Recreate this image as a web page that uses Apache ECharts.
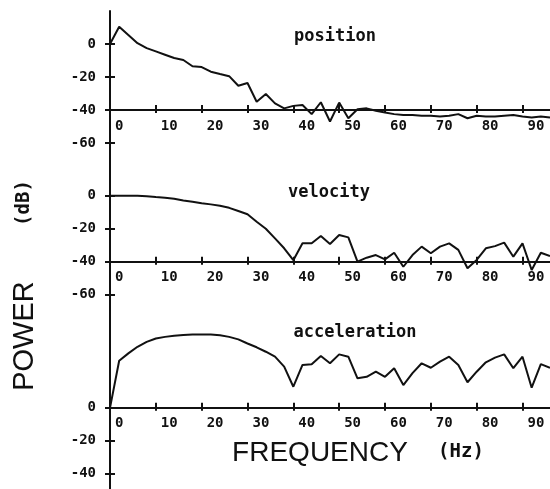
<!DOCTYPE html>
<html>
<head>
<meta charset="utf-8">
<script src="https://cdn.jsdelivr.net/npm/echarts@6/dist/echarts.min.js"></script>
<style>
    html, body { margin: 0; padding: 0; background: #fff; }
    #chart { width: 550px; height: 489px; }
</style>
</head>
<body>
<div id="chart"></div>
<script>
(function () {
    'use strict';

    // frequency (Hz) of each sample
    var freq = [0, 2, 4, 6, 8, 10, 12, 14, 16, 18, 20, 22, 24, 26, 28, 30, 32, 34, 36, 38,
        40, 42, 44, 46, 48, 50, 52, 54, 56, 58, 60, 62, 64, 66, 68, 70, 72, 74, 76, 78,
        80, 82, 84, 86, 88, 90, 92, 94, 96];

    // power in dB
    var positionDb = [0, 10.5, 5.5, 0.5, -2.5, -4.5, -6.5, -8.5, -9.7, -13.5,
        -14, -16.8, -18.2, -19.5, -25.3, -23.6, -35, -30.3, -36, -39,
        -37.5, -37, -42.5, -35.3, -47, -35.5, -45, -39.5, -39, -40.5,
        -41.5, -42.5, -43, -43, -43.5, -43.5, -44, -43.5, -42.5, -45,
        -43.5, -44, -44, -43.5, -43, -44, -44.5, -44, -44.5];

    var velocityDb = [0, 0, 0, 0, -0.3, -0.8, -1.2, -1.8, -2.8, -3.6,
        -4.5, -5.2, -6, -7.3, -9.2, -11.2, -15.7, -20, -25.8, -31.8,
        -39, -28.8, -28.8, -24.4, -29.2, -23.8, -25.2, -39.9, -37.5, -35.9,
        -38.5, -34.5, -43, -35.9, -30.8, -34.8, -30.8, -28.8, -32.8, -43.9,
        -38.9, -31.8, -30.5, -28.4, -36.9, -28.8, -45, -34.5, -36.5];

    var accelerationDb = [0, 28.5, 33, 37, 40, 42, 43, 43.7, 44.2, 44.4,
        44.5, 44.4, 44, 43, 41.5, 39, 36.7, 34, 31, 25,
        12.8, 26, 26.4, 31.4, 27, 32.4, 31, 17.9, 18.8, 21.9,
        18.8, 24, 13.8, 21, 27, 24.3, 28, 31, 26, 15.5,
        21.9, 27.6, 30.4, 32.4, 24, 31, 12.2, 26.5, 24.3];

    var panelNames = ['position', 'velocity', 'acceleration'];
    var xTickValues = [0, 10, 20, 30, 40, 50, 60, 70, 80, 90];
    var yTickValues = [[0, -20, -40, -60], [0, -20, -40, -60], [0, -20, -40]];

    var ink = '#111';
    var labelFont = { fontFamily: 'DejaVu Sans Mono', fontWeight: 'bold', fontSize: 14, color: ink };

    // panel layout: pixel top/height, dB range, where the frequency axis sits
    var panels = [
        { top: 11, height: 148.5, min: -70, max: 20, axisAt: -40 },
        { top: 159.5, height: 151.8, min: -70, max: 22, axisAt: -40 },
        { top: 311.3, height: 177.4, min: -49, max: 58.5, axisAt: 0 }
    ];
    var series = [positionDb, velocityDb, accelerationDb];

    var grid = [], xAxis = [], yAxis = [], seriesList = [];

    for (var i = 0; i < panels.length; i++) {
        var p = panels[i];
        var pxPerDb = p.height / (p.max - p.min);
        var xOffset = -(p.axisAt - p.min) * pxPerDb;

        grid.push({ left: 110, right: 0, top: p.top, height: p.height, outerBoundsMode: 'none' });

        // main x axis (labels + ticks below)
        xAxis.push({
            type: 'value', gridIndex: i, min: 0, max: 96, position: 'bottom', offset: xOffset,
            axisLine: { onZero: false, lineStyle: { color: ink, width: 2 } },
            axisTick: { show: true, length: 3, customValues: xTickValues.slice(1), lineStyle: { color: ink, width: 2 } },
            axisLabel: Object.assign({ customValues: xTickValues, align: 'left', padding: [0, 0, 0, 5], margin: 9 }, labelFont),
            splitLine: { show: false }
        });
        // twin x axis: ticks above the line to make crosses
        xAxis.push({
            type: 'value', gridIndex: i, min: 0, max: 96, position: 'bottom', offset: xOffset,
            axisLine: { show: false, onZero: false },
            axisTick: { show: true, inside: true, length: 5, customValues: xTickValues.slice(1), lineStyle: { color: ink, width: 2 } },
            axisLabel: { show: false },
            splitLine: { show: false }
        });

        yAxis.push({
            type: 'value', gridIndex: i, min: p.min, max: p.max, position: 'left',
            axisLine: { show: true, onZero: false, lineStyle: { color: ink, width: 2 } },
            axisTick: { show: true, length: 5, customValues: yTickValues[i], lineStyle: { color: ink, width: 2 } },
            axisLabel: Object.assign({ customValues: yTickValues[i], margin: 14 }, labelFont),
            splitLine: { show: false }
        });
        yAxis.push({
            type: 'value', gridIndex: i, min: p.min, max: p.max, position: 'left',
            axisLine: { show: false, onZero: false },
            axisTick: { show: true, inside: true, length: 5, customValues: yTickValues[i], lineStyle: { color: ink, width: 2 } },
            axisLabel: { show: false },
            splitLine: { show: false }
        });

        var pts = [];
        for (var j = 0; j < freq.length; j++) {
            pts.push([freq[j], series[i][j]]);
        }
        seriesList.push({
            name: panelNames[i],
            type: 'line',
            xAxisIndex: i * 2,
            yAxisIndex: i * 2,
            data: pts,
            showSymbol: false,
            clip: false,
            lineStyle: { color: ink, width: 2 }
        });
    }

    var titleStyle = { fontFamily: 'DejaVu Sans Mono', fontWeight: 'bold', fontSize: 17, fill: ink, textAlign: 'center', textVerticalAlign: 'middle' };

    var myChart = echarts.init(document.getElementById('chart'), null, { renderer: 'canvas' });

    myChart.setOption({
        animation: false,
        backgroundColor: '#fff',
        grid: grid,
        xAxis: xAxis,
        yAxis: yAxis,
        series: seriesList,
        graphic: [
            { type: 'text', x: 335, y: 37, style: Object.assign({ text: panelNames[0] }, titleStyle) },
            { type: 'text', x: 329, y: 193, style: Object.assign({ text: panelNames[1] }, titleStyle) },
            { type: 'text', x: 355, y: 333, style: Object.assign({ text: panelNames[2] }, titleStyle) },
            {
                type: 'text', x: 25, y: 336, rotation: Math.PI / 2,
                style: { text: 'POWER', fontFamily: 'Liberation Sans', fontSize: 29, fill: ink, textAlign: 'center', textVerticalAlign: 'middle' }
            },
            {
                type: 'text', x: 24, y: 203, rotation: Math.PI / 2,
                style: { text: '(dB)', fontFamily: 'DejaVu Sans Mono', fontWeight: 'bold', fontSize: 19, fill: ink, textAlign: 'center', textVerticalAlign: 'middle' }
            },
            {
                type: 'text', x: 320, y: 453,
                style: { text: 'FREQUENCY', fontFamily: 'Liberation Sans', fontSize: 28, fill: ink, textAlign: 'center', textVerticalAlign: 'middle' }
            },
            {
                type: 'text', x: 461, y: 452,
                style: { text: '(Hz)', fontFamily: 'DejaVu Sans Mono', fontWeight: 'bold', fontSize: 19, fill: ink, textAlign: 'center', textVerticalAlign: 'middle' }
            }
        ]
    });
}());
</script>
</body>
</html>
